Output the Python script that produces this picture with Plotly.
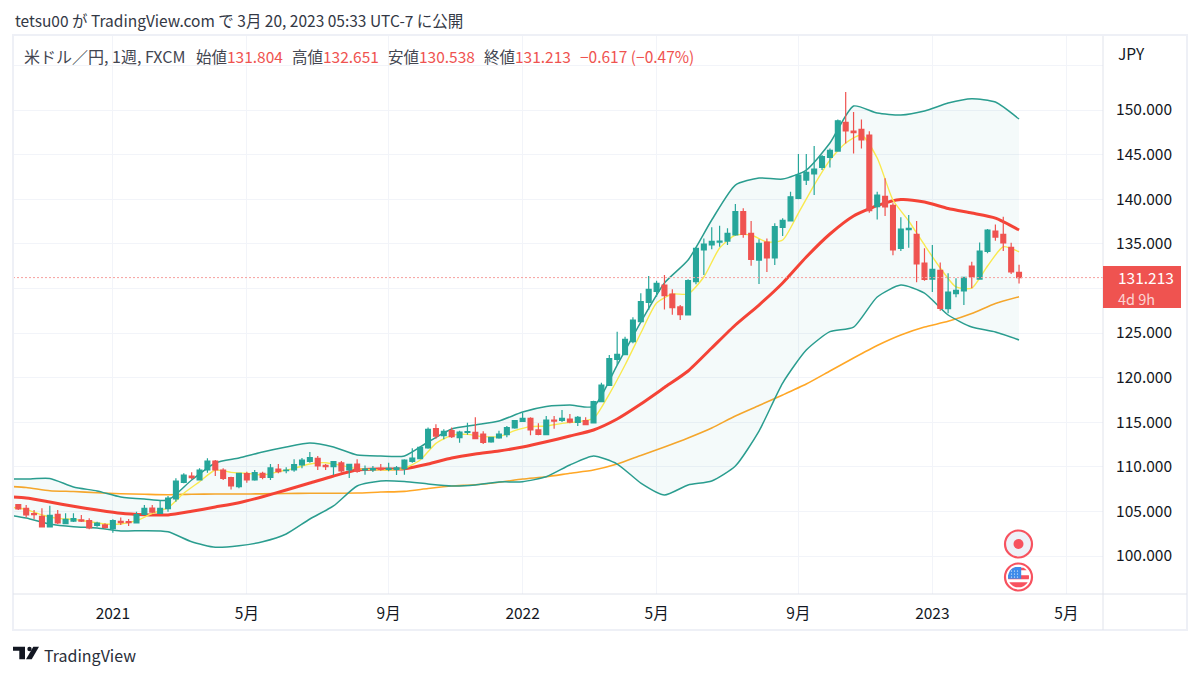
import numpy as np
import pandas as pd
import plotly.graph_objects as go

# weekly USD/JPY bars
opens = [105.75, 105.34, 104.75, 104.45, 103.25, 104.67, 103.62, 103.92, 104.04, 103.96,
         103.44, 103.48, 103.06, 103.89, 103.85, 103.70, 104.67, 105.38, 104.78, 105.31,
         106.39, 108.26, 108.97, 108.52, 109.64, 110.65, 109.64, 108.78, 107.77, 109.23,
         108.52, 109.27, 108.82, 109.75, 109.57, 109.64, 110.20, 110.61, 110.95, 110.16,
         110.02, 110.43, 109.64, 110.31, 109.64, 109.64, 109.83, 109.72, 109.72, 109.79,
         110.61, 110.91, 112.11, 114.28, 113.49, 114.05, 113.27, 113.86, 113.86, 113.68,
         112.78, 113.23, 113.60, 114.35, 115.10, 115.43, 114.13, 113.60, 115.25, 115.21,
         115.36, 114.98, 115.17, 114.91, 117.30, 119.13, 122.05, 122.57, 124.03, 126.27,
         128.44, 129.67, 130.38, 129.37, 127.92, 127.02, 130.76, 134.31, 134.87, 135.20,
         135.31, 135.99, 138.60, 136.17, 133.18, 135.20, 133.41, 136.85, 137.56, 140.10,
         142.15, 142.83, 143.57, 144.69, 145.40, 148.62, 147.65, 147.83, 147.20, 139.16,
         140.32, 139.31, 134.49, 136.58, 136.06, 132.85, 131.05, 132.03, 127.73, 129.41,
         129.71, 132.51, 131.05, 134.16, 136.44, 136.06, 134.60, 131.804]
highs = [105.83, 105.72, 105.16, 105.34, 105.64, 105.16, 104.78, 104.78, 104.60, 104.22,
         103.85, 103.66, 104.11, 104.33, 104.15, 104.97, 105.72, 105.72, 106.28, 106.73,
         108.71, 109.27, 109.38, 109.83, 110.95, 110.76, 109.83, 108.89, 109.34, 109.45,
         109.64, 109.45, 110.31, 110.31, 109.94, 110.84, 110.99, 111.66, 111.21, 110.31,
         110.58, 110.65, 110.31, 110.84, 110.16, 110.09, 110.31, 110.46, 110.09, 110.84,
         112.07, 112.26, 114.42, 114.76, 114.20, 114.42, 114.05, 114.95, 115.55, 113.98,
         113.30, 114.05, 114.57, 115.25, 116.07, 115.55, 114.87, 115.70, 115.70, 116.37,
         115.92, 115.70, 115.55, 117.41, 119.43, 122.53, 125.15, 124.59, 126.76, 129.45,
         131.39, 130.87, 131.50, 129.90, 128.14, 131.02, 134.60, 135.61, 136.85, 137.03,
         136.74, 139.46, 138.98, 137.56, 135.50, 135.61, 137.30, 137.86, 140.85, 145.07,
         145.07, 145.97, 144.96, 145.70, 148.95, 152.02, 149.78, 148.95, 147.61, 140.85,
         142.34, 139.54, 137.97, 138.23, 137.56, 134.49, 134.87, 132.92, 131.69, 131.13,
         131.24, 133.00, 135.16, 136.66, 137.18, 138.04, 135.13, 132.651]
lows = [105.16, 104.33, 104.11, 103.21, 103.21, 103.59, 103.55, 103.81, 103.81, 102.99,
        103.29, 103.06, 102.62, 103.48, 103.36, 103.66, 104.56, 104.78, 104.78, 104.97,
        106.09, 108.15, 108.60, 108.52, 109.34, 108.97, 108.52, 107.47, 107.59, 108.22,
        108.45, 108.60, 108.52, 109.27, 109.27, 109.45, 109.83, 110.46, 109.64, 109.64,
        109.08, 109.34, 108.74, 109.34, 109.12, 109.42, 109.57, 109.49, 109.08, 109.12,
        110.46, 110.84, 112.03, 113.15, 113.08, 113.23, 112.71, 113.60, 113.08, 112.56,
        112.71, 113.15, 113.30, 114.28, 115.02, 113.53, 113.53, 113.53, 114.28, 115.02,
        114.87, 114.57, 114.65, 114.87, 117.23, 119.06, 121.41, 122.53, 123.84, 126.20,
        127.58, 129.07, 127.65, 127.06, 126.46, 126.98, 130.46, 131.50, 134.38, 134.68,
        134.87, 135.91, 135.69, 132.55, 130.49, 131.84, 132.62, 135.88, 137.52, 139.99,
        141.59, 140.47, 143.27, 143.57, 145.37, 146.26, 145.14, 145.70, 138.49, 137.74,
        138.12, 133.71, 134.19, 134.57, 130.68, 130.87, 129.60, 127.50, 127.21, 129.00,
        128.14, 130.01, 131.02, 133.93, 135.35, 134.19, 131.61, 130.538]
closes = [105.27, 104.60, 104.63, 103.25, 104.56, 103.70, 104.11, 104.19, 103.92, 103.14,
          103.70, 103.21, 103.96, 103.74, 103.74, 104.63, 105.34, 104.93, 105.34, 106.50,
          108.41, 109.08, 108.78, 109.64, 110.65, 109.64, 108.71, 107.85, 109.27, 108.52,
          109.34, 108.82, 109.87, 109.45, 109.64, 110.24, 110.76, 111.02, 110.09, 110.02,
          110.58, 109.53, 110.28, 109.49, 109.75, 109.79, 109.72, 109.83, 109.87, 110.76,
          110.99, 112.18, 114.20, 113.45, 113.98, 113.38, 113.90, 113.94, 113.15, 112.74,
          113.30, 113.68, 114.39, 115.17, 115.43, 114.13, 113.64, 115.25, 115.13, 115.43,
          115.02, 115.55, 114.72, 117.30, 119.17, 122.12, 122.61, 124.29, 126.46, 128.51,
          129.90, 130.57, 129.19, 127.84, 127.06, 130.87, 134.49, 134.98, 135.28, 135.31,
          136.17, 138.60, 136.06, 133.26, 135.05, 133.41, 136.92, 137.63, 140.28, 142.71,
          143.01, 143.39, 144.77, 145.48, 148.80, 147.65, 147.46, 146.64, 138.71, 140.47,
          139.13, 134.31, 136.66, 136.74, 132.74, 131.02, 132.14, 127.77, 129.60, 129.78,
          131.24, 131.35, 134.19, 136.55, 135.76, 135.09, 131.84, 131.213]
bar_dates = pd.date_range("2020-10-12", periods=len(closes), freq="7D")

# indicator lines, read every third bar
line_dates = pd.date_range("2020-09-28", periods=44, freq="21D")
bb_upper = [108.63, 108.63, 108.69, 107.74, 107.29, 106.61, 106.39, 106.28, 108.52, 110.43, 110.99,
            111.66, 112.22, 112.67, 112.22, 111.32, 111.21, 111.21, 112.78, 114.24, 114.69, 115.13,
            116.14, 116.76, 116.93, 116.76, 121.41, 126.23, 130.61, 133.18, 137.67, 141.59, 142.38,
            142.26, 143.27, 146.30, 150.45, 149.66, 149.44, 149.89, 150.78, 151.27, 150.90, 148.99]
bb_lower = [104.71, 104.26, 103.59, 103.28, 103.14, 102.80, 102.84, 102.72, 101.60, 100.98, 101.15,
            101.60, 102.47, 104.15, 105.61, 107.85, 108.41, 108.35, 108.07, 107.85, 107.96, 108.30,
            108.33, 108.89, 110.20, 111.21, 110.31, 108.18, 106.84, 107.96, 108.41, 110.09, 114.01,
            119.39, 123.09, 125.15, 125.67, 129.04, 130.38, 129.48, 127.02, 125.67, 125.11, 124.22]
ma_red = [106.67, 106.50, 106.05, 105.57, 105.16, 104.79, 104.63, 104.60, 105.01, 105.49, 105.98,
          106.65, 107.40, 108.18, 108.97, 109.64, 109.75, 109.79, 110.31, 110.99, 111.43, 111.77,
          112.22, 112.81, 113.45, 114.13, 115.36, 117.04, 118.89, 120.74, 123.32, 125.90, 128.14,
          130.61, 133.52, 136.10, 138.12, 139.29, 139.97, 139.69, 138.96, 138.45, 137.89, 136.55]
ma_orange = [107.85, 107.68, 107.32, 107.23, 107.10, 106.98, 106.92, 106.87, 106.93, 106.95, 106.95,
             106.97, 107.01, 107.03, 107.04, 107.06, 107.17, 107.25, 107.57, 107.85, 107.99, 108.26,
             108.63, 108.88, 109.27, 109.64, 110.31, 111.27, 112.22, 113.23, 114.35, 115.70, 116.87,
             118.05, 119.28, 120.74, 122.20, 123.60, 124.78, 125.67, 126.31, 127.19, 128.31, 129.07]

# fast yellow average, read every second bar
yellow_dates = pd.date_range("2020-10-05", periods=65, freq="14D")
ma_yellow = [105.46, 105.23, 104.60, 104.22, 104.11, 103.85, 103.59, 103.59, 103.96, 104.78, 105.42,
             107.03, 108.33, 109.64, 109.38, 109.27, 109.08, 109.45, 109.83,
             110.31, 110.46, 110.16, 109.79, 109.68, 109.64, 109.83, 110.76, 112.63, 113.53,
             113.64, 113.38, 113.38, 114.05, 114.50, 114.57, 114.87, 115.06, 115.43,
             118.16, 121.41, 125.00, 128.36, 129.37, 129.37, 131.28, 134.53, 135.99, 135.99,
             135.20, 135.43, 138.45, 141.59, 144.39, 146.30, 147.20, 144.62, 139.91, 137.56,
             134.87, 132.29, 130.16, 130.04, 132.51, 134.67, 134.11]

# 130 sits behind the last price tag and 155 behind the header, so only their grid lines show
price_ticks = [100, 105, 110, 115, 120, 125, 130, 135, 140, 145, 150, 155]
price_labels = ["100.000", "105.000", "110.000", "115.000", "120.000", "125.000",
                "", "135.000", "140.000", "145.000", "150.000", ""]
time_ticks = ["2021-01-04", "2021-05-03", "2021-09-06", "2022-01-03",
              "2022-05-02", "2022-09-05", "2023-01-02", "2023-05-01"]
time_labels = ["2021", "5月", "9月", "2022", "5月", "9月", "2023", "5月"]

UP = "#26a69a"
DOWN = "#ef5350"
TEAL = "#2a9d8f"
INK = "#131722"
GRID = "#f2f4f9"
FONT = "Noto Sans CJK JP"
TEXT_SIZE = 15.5

# plot area in page pixels
LEFT, RIGHT, TOP, BOTTOM = 13, 1103, 36, 594


def px(x):
    return (x - LEFT) / (RIGHT - LEFT)


def py(y):
    return (BOTTOM - y) / (BOTTOM - TOP)


def path_of(points):
    return "M" + "L".join(f"{px(x):.5f},{py(y):.5f}" for x, y in points) + "Z"


def circle(cx, cy, r, **kw):
    return dict(type="circle", xref="paper", yref="paper", x0=px(cx - r), x1=px(cx + r),
                y0=py(cy + r), y1=py(cy - r), **kw)


def rect(x0, y0, x1, y1, **kw):
    return dict(type="rect", xref="paper", yref="paper", x0=px(x0), x1=px(x1),
                y0=py(y1), y1=py(y0), **kw)


def flag_band(cx, cy, r, top, bottom, right_limit=None):
    # slice of a circle between two heights, used for the flag stripes
    ys = np.linspace(top, bottom, 8)
    half = np.sqrt(np.maximum(r ** 2 - ys ** 2, 0))
    rights = half if right_limit is None else np.minimum(half, right_limit)
    pts = [(cx - h, cy + v) for h, v in zip(half, ys)]
    pts += [(cx + h, cy + v) for h, v in zip(rights[::-1], ys[::-1])]
    return dict(type="path", xref="paper", yref="paper", path=path_of(pts), line_width=0)


fig = go.Figure()

# band fill and lines go on the base axes, candles on an overlay so they sit on top
fig.add_trace(go.Scatter(x=line_dates, y=ma_orange, mode="lines",
                         line=dict(color="#ffa726", width=1.6, shape="spline", smoothing=0.6)))
fig.add_trace(go.Scatter(x=line_dates, y=bb_upper, mode="lines",
                         line=dict(color=TEAL, width=1.5, shape="spline", smoothing=0.6)))
fig.add_trace(go.Scatter(x=line_dates, y=bb_lower, mode="lines", fill="tonexty",
                         fillcolor="rgba(38,166,154,0.05)",
                         line=dict(color=TEAL, width=1.5, shape="spline", smoothing=0.6)))
fig.add_trace(go.Scatter(x=line_dates, y=ma_red, mode="lines",
                         line=dict(color="#f44336", width=3, shape="spline", smoothing=0.6)))
fig.add_trace(go.Scatter(x=yellow_dates, y=ma_yellow, mode="lines",
                         line=dict(color="#f9e94e", width=1.4, shape="spline", smoothing=0.6)))
fig.add_trace(go.Candlestick(
    x=bar_dates, open=opens, high=highs, low=lows, close=closes,
    xaxis="x2", yaxis="y2", whiskerwidth=0,
    increasing=dict(line=dict(color=UP, width=1.2), fillcolor=UP),
    decreasing=dict(line=dict(color=DOWN, width=1.2), fillcolor=DOWN),
))

x_range = ["2020-10-07 07:00", "2023-06-02 14:00"]
y_range = [95.74, 158.30]

shapes = [
    # last price line, drawn light so the dots read as pink
    dict(type="line", xref="paper", yref="y", x0=0, x1=1, y0=closes[-1], y1=closes[-1],
         line=dict(color="#f7a09e", width=1, dash="2px,2px")),
    # frame
    rect(LEFT, 35, 1187, 630, line=dict(color="#eef0f6", width=2)),
    dict(type="line", xref="paper", yref="paper", x0=px(LEFT), x1=px(1187), y0=py(594), y1=py(594),
         line=dict(color="#e0e3eb", width=1)),
    dict(type="line", xref="paper", yref="paper", x0=px(1103), x1=px(1103), y0=py(36), y1=py(630),
         line=dict(color="#e0e3eb", width=1)),
    # last price tag
    rect(1103, 266, 1181, 308, fillcolor=DOWN, line_width=0),
    # Japan event badge
    circle(1018.5, 544, 13.5, fillcolor="#eef1f8", line=dict(color="#f7525f", width=2.2)),
    circle(1018.5, 544, 5, fillcolor="#f7525f", line_width=0),
    # US event badge
    circle(1018.5, 577, 13.5, fillcolor="white", line=dict(color="#f7525f", width=2.2)),
]
for top, bottom in [(-9.2, -6.8), (-1.7, 2.3), (5.2, 10.2)]:
    shapes.append(dict(flag_band(1018.5, 577, 10.5, top, bottom), fillcolor="#f7525f"))
shapes.append(dict(flag_band(1018.5, 577, 10.5, -10, 1.7, right_limit=2.7), fillcolor="#3d8bea"))
for dx in (-7, -4, -1):
    for dy in (-6, -3, 0):
        shapes.append(circle(1018.5 + dx, 577 + dy, 0.6, fillcolor="white", line_width=0))

# logo
shapes.append(dict(type="path", xref="paper", yref="paper", fillcolor=INK, line_width=0,
                   path=path_of([(13, 646.7), (25, 646.7), (25, 659.3), (19.3, 659.3),
                                 (19.3, 650.7), (13, 650.7)])))
shapes.append(circle(29.5, 649, 2.2, fillcolor=INK, line_width=0))
shapes.append(dict(type="path", xref="paper", yref="paper", fillcolor=INK, line_width=0,
                   path=path_of([(33.3, 646.7), (39, 646.7), (31.7, 659.3), (26, 659.3)])))


def label(x, y, text, color=INK, size=TEXT_SIZE, anchor="left"):
    return dict(xref="paper", yref="paper", x=px(x), y=py(y), text=text, showarrow=False,
                xanchor=anchor, yanchor="middle", align=anchor, borderpad=0,
                font=dict(family=FONT, size=size, color=color))


annotations = [
    label(14, 20, "tetsu00 が TradingView.com で 3月 20, 2023 05:33 UTC-7 に公開", "#333845"),
    label(23, 56, "米ドル／円, 1週, FXCM", "#434651", 16),
    label(195, 56, "始値", "#434651"),
    label(226, 56, "131.804", DOWN),
    label(291, 56, "高値", "#434651"),
    label(322, 56, "132.651", DOWN),
    label(387, 56, "安値", "#434651"),
    label(418, 56, "130.538", DOWN),
    label(483, 56, "終値", "#434651"),
    label(514, 56, "131.213", DOWN),
    label(579, 56, "−0.617 (−0.47%)", DOWN),
    label(1117, 53, "JPY"),
    label(1117, 277, "131.213", "white"),
    label(1117, 298, "4d 9h", "rgba(255,255,255,0.75)", 14.5),
    label(43, 655, "TradingView", "#2a2e39", 16),
]

fig.update_layout(
    width=1200, height=677,
    margin=dict(l=LEFT, r=1200 - RIGHT, t=TOP, b=677 - BOTTOM),
    paper_bgcolor="white", plot_bgcolor="white",
    showlegend=False,
    boxgap=0.12,
    font=dict(family=FONT, size=TEXT_SIZE, color=INK),
    shapes=shapes, annotations=annotations,
    xaxis=dict(type="date", range=x_range, tickmode="array", tickvals=time_ticks, ticktext=time_labels,
               showgrid=True, gridcolor=GRID, gridwidth=1, zeroline=False, showline=False,
               ticks="outside", ticklen=5, tickcolor="rgba(0,0,0,0)",
               tickfont=dict(family=FONT, size=TEXT_SIZE, color=INK), rangeslider=dict(visible=False)),
    yaxis=dict(range=y_range, side="right", tickmode="array", tickvals=price_ticks, ticktext=price_labels,
               showgrid=True, gridcolor=GRID, gridwidth=1, zeroline=False, showline=False,
               ticks="outside", ticklen=9, tickcolor="rgba(0,0,0,0)",
               tickfont=dict(family=FONT, size=TEXT_SIZE, color=INK)),
    xaxis2=dict(type="date", range=x_range, overlaying="x", visible=False,
                rangeslider=dict(visible=False)),
    yaxis2=dict(range=y_range, overlaying="y", visible=False),
)

# the page body keeps a default margin, drop it so the figure starts at the corner
fig.write_html("out.html", config={"displayModeBar": False},
               post_script="document.body.style.margin='0';document.body.style.overflow='hidden';")
